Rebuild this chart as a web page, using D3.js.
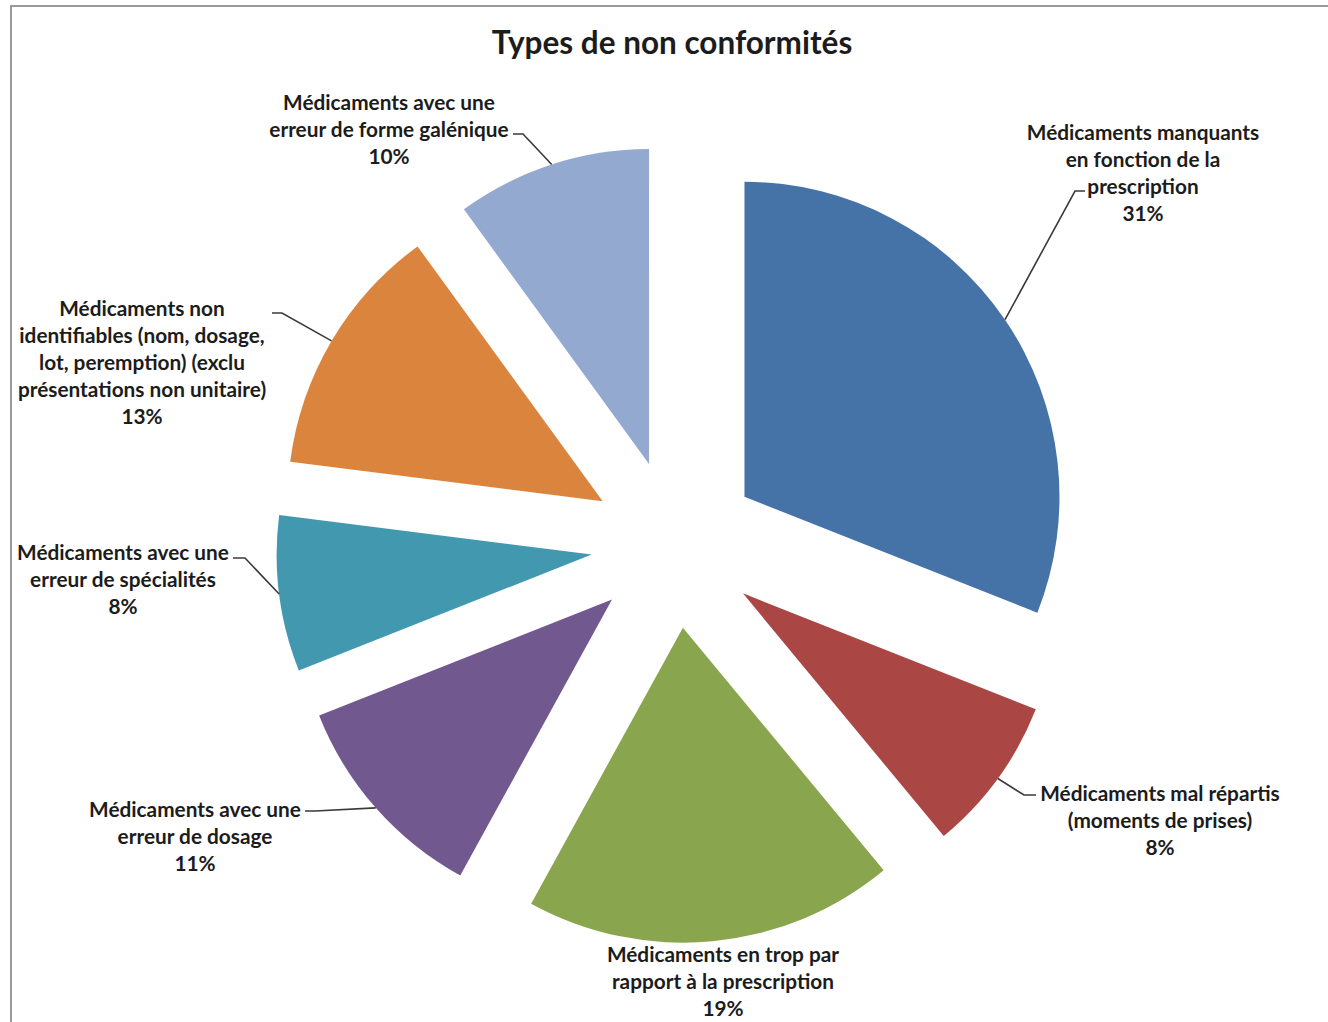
<!DOCTYPE html>
<html>
<head>
<meta charset="utf-8">
<script src="https://cdn.jsdelivr.net/npm/d3@7"></script>
<style>
  body { margin: 0; background: #fff; }
  text { font-family: Lato, "Open Sans", sans-serif; font-weight: bold; fill: #1c1c1c; }
</style>
</head>
<body>
<svg id="chart" width="1328" height="1022"></svg>
<script>
'use strict';

// data, clockwise from 12 o'clock
var categories = [
  ['Médicaments manquants', 'en fonction de la', 'prescription'],
  ['Médicaments mal répartis', '(moments de prises)'],
  ['Médicaments en trop par', 'rapport à la prescription'],
  ['Médicaments avec une', 'erreur de dosage'],
  ['Médicaments avec une', 'erreur de spécialités'],
  ['Médicaments non', 'identifiables (nom, dosage,', 'lot, peremption) (exclu', 'présentations non unitaire)'],
  ['Médicaments avec une', 'erreur de forme galénique']
];
var values = [31, 8, 19, 11, 8, 13, 10];
var colors = ['#4572A7', '#AA4643', '#89A54E', '#71588F', '#4198AF', '#DB843D', '#93A9CF'];
var title = 'Types de non conformités';

// label placement (text centre, leader start, elbow)
var labelPos = [
  {x: 1143, y: 131, ax: 1085, ay: 191, ex: 1075},
  {x: 1160, y: 792, ax: 1036, ay: 795, ex: 1024},
  {x: 723, y: 953},
  {x: 195, y: 808, ax: 305, ay: 811, ex: 315},
  {x: 123, y: 551, ax: 233, ay: 558, ex: 245},
  {x: 142, y: 307, ax: 272, ay: 313, ex: 282},
  {x: 389, y: 101, ax: 513, ay: 134, ex: 523}
];

var svg = d3.select('#chart');
var cx = 675, cy = 544, radius = 315, explode = 84, lineH = 27;

svg.append('rect')
  .attr('x', 11).attr('y', 6)
  .attr('width', 1340).attr('height', 1040)
  .attr('fill', 'none').attr('stroke', '#9a9a9a').attr('stroke-width', 2);

svg.append('text')
  .attr('x', 672).attr('y', 42)
  .attr('text-anchor', 'middle').attr('dominant-baseline', 'central')
  .style('font-size', '31.5px')
  .text(title);

var pie = d3.pie().sort(null).value(function(d) { return d; });
var arc = d3.arc().innerRadius(0).outerRadius(radius);
var arcs = pie(values);

function offset(d, r) {
  var a = (d.startAngle + d.endAngle) / 2;
  return [Math.sin(a) * r, -Math.cos(a) * r];
}

var g = svg.append('g').attr('transform', 'translate(' + cx + ',' + cy + ')');

g.selectAll('path.slice')
  .data(arcs)
  .enter().append('path')
  .attr('class', 'slice')
  .attr('d', arc)
  .attr('fill', function(d, i) { return colors[i]; })
  .attr('transform', function(d) {
    var o = offset(d, explode);
    return 'translate(' + o[0] + ',' + o[1] + ')';
  });

// leader lines: from the label to the middle of the slice's arc
arcs.forEach(function(d, i) {
  var p = labelPos[i];
  if (p.ax === undefined) { return; }
  var o = offset(d, explode), m = offset(d, radius);
  var tx = cx + o[0] + m[0], ty = cy + o[1] + m[1];
  svg.append('path')
    .attr('d', 'M' + p.ax + ',' + p.ay + 'H' + p.ex + 'L' + tx + ',' + ty)
    .attr('fill', 'none')
    .attr('stroke', '#3a3a3a')
    .attr('stroke-width', 1.6);
});

arcs.forEach(function(d, i) {
  var p = labelPos[i];
  var lines = categories[i].concat([values[i] + '%']);
  var t = svg.append('text')
    .attr('text-anchor', 'middle')
    .style('font-size', '20.8px');
  lines.forEach(function(l, k) {
    t.append('tspan')
      .attr('x', p.x)
      .attr('y', p.y + k * lineH)
      .attr('dominant-baseline', 'central')
      .text(l);
  });
});
</script>
</body>
</html>
